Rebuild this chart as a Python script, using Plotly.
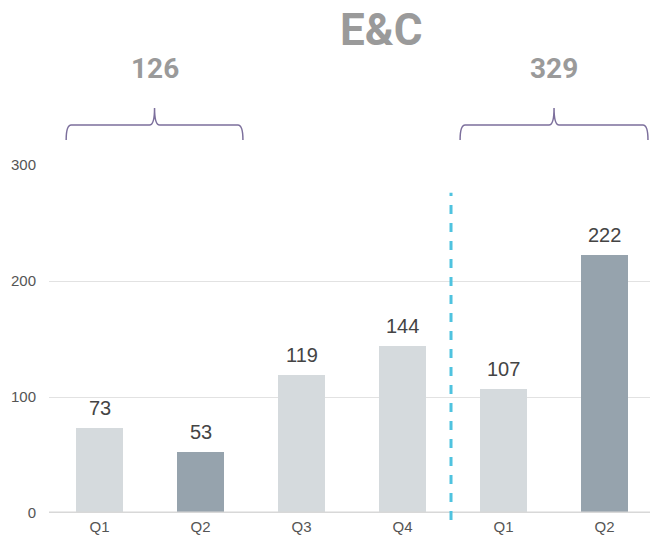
import plotly.graph_objects as go

quarters = ["Q1", "Q2", "Q3", "Q4", "Q1", "Q2"]
values = [73, 53, 119, 144, 107, 222]
bar_colors = ["#d5dadd", "#96a3ad", "#d5dadd", "#d5dadd", "#d5dadd", "#96a3ad"]
totals = ["126", "329"]
brace_spans = [(-0.33, 1.42), (3.57, 5.43)]
y_ticks = [0, 100, 200, 300]

x_pos = list(range(len(values)))

fig = go.Figure()
fig.add_trace(go.Bar(
    x=x_pos, y=values, width=0.46,
    marker=dict(color=bar_colors, line=dict(width=0)),
))

shapes = []
shapes.append(dict(type="line", xref="paper", yref="y", x0=0, x1=1, y0=0, y1=0,
                   line=dict(color="#d8d8d8", width=3), layer="above"))
shapes.append(dict(type="line", xref="x", yref="paper", x0=3.48, x1=3.48, y0=-0.02, y1=0.92,
                   line=dict(color="#4fc3df", width=3, dash="dash"), layer="above"))

yb, yh, yp = 1.072, 1.115, 1.164
for (a, b) in brace_spans:
    m = (a + b) / 2
    s = 0.05
    path = (f"M {a},{yb} Q {a},{yh} {a+s},{yh} L {m-s},{yh} Q {m},{yh} {m},{yp} "
            f"Q {m},{yh} {m+s},{yh} L {b-s},{yh} Q {b},{yh} {b},{yb}")
    shapes.append(dict(type="path", xref="x", yref="paper", path=path,
                       line=dict(color="#7c6f9c", width=1.5)))

annotations = []
for xv, v in zip(x_pos, values):
    annotations.append(dict(x=xv, y=v, xref="x", yref="y", text=str(v), showarrow=False,
                            yshift=20, xanchor="center", yanchor="middle",
                            font=dict(family="Liberation Sans, Arial", size=20, color="#444444")))
for t, (a, b) in zip(totals, brace_spans):
    annotations.append(dict(x=(a + b) / 2, y=1.277, xref="x", yref="paper", text=f"<b>{t}</b>",
                            showarrow=False, font=dict(family="Roboto, Liberation Sans", size=28, color="#9a9a9a"),
                            xanchor="center", yanchor="middle"))
annotations.append(dict(x=(381 - 49) / 601, y=(513 - 30) / 348, xref="paper", yref="paper",
                        text="<b>E&C</b>", showarrow=False,
                        font=dict(family="Roboto, Liberation Sans", size=44, color="#9a9a9a"),
                        xanchor="center", yanchor="middle"))

fig.update_layout(
    width=650, height=538,
    margin=dict(l=49, r=0, t=165, b=25),
    plot_bgcolor="white", paper_bgcolor="white",
    showlegend=False, bargap=0,
    shapes=shapes, annotations=annotations,
    xaxis=dict(range=[-0.5, 5.45], tickvals=x_pos, ticktext=quarters, showgrid=False,
               zeroline=False, showline=False, ticks="", ticklabelstandoff=3,
               tickfont=dict(family="Liberation Sans, Arial", size=15, color="#555555")),
    yaxis=dict(range=[0, 300], tickvals=y_ticks, showgrid=True, gridcolor="#e2e2e2", gridwidth=1,
               zeroline=False, showline=False, ticks="", ticklabelstandoff=12,
               tickfont=dict(family="Liberation Sans, Arial", size=15, color="#555555")),
)

fig.write_html("out.html")
